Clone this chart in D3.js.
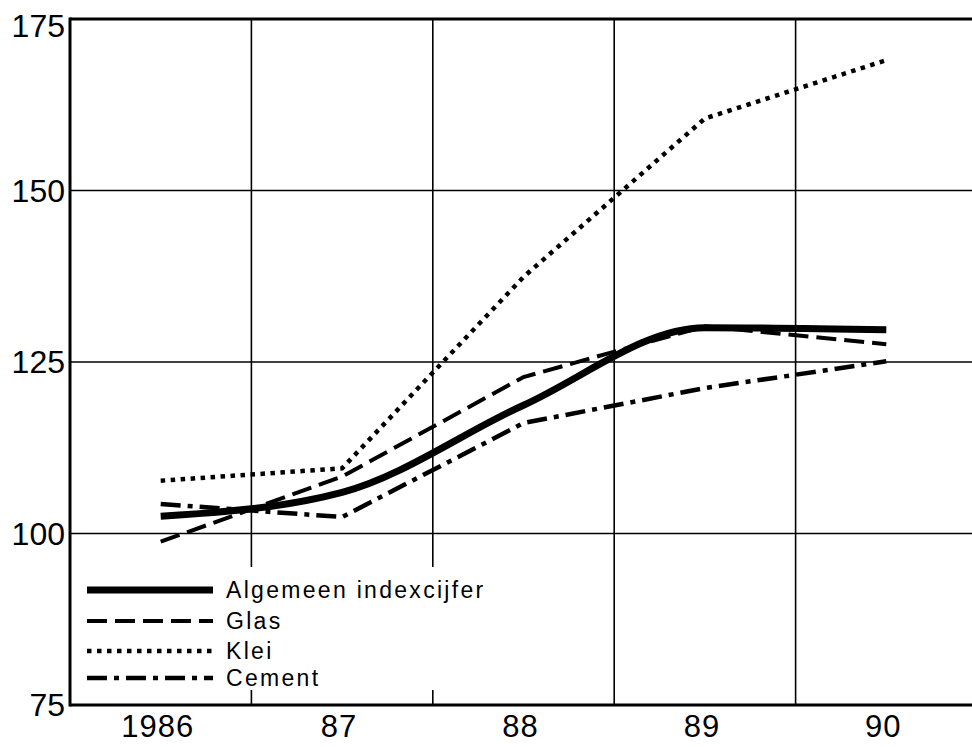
<!DOCTYPE html>
<html>
<head>
<meta charset="utf-8">
<script src="https://cdn.jsdelivr.net/npm/d3@7/dist/d3.min.js"></script>
<style>
  body { margin: 0; background: #fff; }
  text { font-family: "Liberation Sans", Arial, sans-serif; fill: #000; }
</style>
</head>
<body>
<div id="chart"></div>
<script>
// values (index, mid-year points)
const years    = [1986.5, 1987.5, 1988.5, 1989.5, 1990.5];
const algemeen = [102.5, 106.0, 118.7, 130.0, 129.7];
const glas     = [98.8, 108.3, 122.8, 130.2, 127.6];
const klei     = [107.7, 109.5, 137.4, 160.5, 169.0];
const cement   = [104.3, 102.4, 116.1, 121.2, 125.1];

const yearLabels  = ['1986', '87', '88', '89', '90'];
const yearGrid    = [1987, 1988, 1989, 1990, 1991];
const yTicks      = [75, 100, 125, 150, 175];
const seriesNames = ['Algemeen indexcijfer', 'Glas', 'Klei', 'Cement'];

var WIDTH  = 972,
    HEIGHT = 747;

var x = d3.scaleLinear().domain([1986, 1991]).range([70, 977]);
var y = d3.scaleLinear().domain([75, 175]).range([705, 19]);

var svg = d3.select('#chart').append('svg')
    .attr('width', WIDTH)
    .attr('height', HEIGHT);

// grid
var grid = svg.append('g').attr('class', 'grid');
grid.selectAll('line.h')
    .data(yTicks.slice(1, -1))
    .enter().append('line')
    .attr('class', 'h')
    .attr('x1', x(1986)).attr('x2', WIDTH)
    .attr('y1', d => y(d)).attr('y2', d => y(d))
    .attr('stroke', '#000').attr('stroke-width', 1.6);

grid.selectAll('line.v')
    .data(yearGrid)
    .enter().append('line')
    .attr('class', 'v')
    .attr('x1', d => x(d)).attr('x2', d => x(d))
    .attr('y1', y(175)).attr('y2', y(75))
    .attr('stroke', '#000').attr('stroke-width', 1.6);

// frame: top, left, bottom
svg.append('line')
    .attr('x1', x(1986)).attr('x2', WIDTH)
    .attr('y1', y(175)).attr('y2', y(175))
    .attr('stroke', '#000').attr('stroke-width', 3);
svg.append('line')
    .attr('x1', x(1986)).attr('x2', WIDTH)
    .attr('y1', y(75)).attr('y2', y(75))
    .attr('stroke', '#000').attr('stroke-width', 3);
svg.append('line')
    .attr('x1', x(1986)).attr('x2', x(1986))
    .attr('y1', y(175) - 1.5).attr('y2', y(75) + 1.5)
    .attr('stroke', '#000').attr('stroke-width', 3);

// y labels
var yAxis = d3.axisLeft(y).tickValues(yTicks).tickSize(0).tickPadding(5);
var yg = svg.append('g')
    .attr('transform', 'translate(' + x(1986) + ',0)')
    .call(yAxis);
yg.select('.domain').remove();
yg.selectAll('text')
    .attr('font-size', 32)
    .attr('font-family', '"Liberation Sans", Arial, sans-serif')
    .attr('fill', '#000')
    .attr('dy', (d) => d === 175 ? '0.55em' : '0.34em');

// x labels at year centres
var xg = svg.append('g').attr('class', 'xlabels');
xg.selectAll('text')
    .data(yearLabels)
    .enter().append('text')
    .attr('x', (d, i) => x(1986.5 + i) - 3)
    .attr('y', 737)
    .attr('text-anchor', 'middle')
    .attr('font-size', 31)
    .attr('letter-spacing', 1)
    .text(d => d);

// legend box masks the grid
var legend = svg.append('g').attr('class', 'legend');
legend.append('rect')
    .attr('x', x(1986) + 2).attr('y', 567)
    .attr('width', 425).attr('height', 123)
    .attr('fill', '#fff');

// series
var series = [
    { name: seriesNames[0], values: algemeen, width: 7,   dash: null,          curve: d3.curveMonotoneX },
    { name: seriesNames[1], values: glas,     width: 4,   dash: '20,8',        curve: d3.curveLinear },
    { name: seriesNames[2], values: klei,     width: 4.5, dash: '4.5,5.5',     curve: d3.curveLinear },
    { name: seriesNames[3], values: cement,   width: 4.5, dash: '20,7,5,7',    curve: d3.curveLinear }
];

series.slice().reverse().forEach(function(s){
    var line = d3.line()
        .x((d, i) => x(years[i]))
        .y(d => y(d))
        .curve(s.curve);
    svg.append('path')
        .datum(s.values)
        .attr('d', line)
        .attr('fill', 'none')
        .attr('stroke', '#000')
        .attr('stroke-width', s.width)
        .attr('stroke-dasharray', s.dash);
});

// legend entries
var rowY = [590, 621, 651, 678];
series.forEach(function(s, i){
    legend.append('line')
        .attr('x1', 87).attr('x2', 213)
        .attr('y1', rowY[i]).attr('y2', rowY[i])
        .attr('stroke', '#000')
        .attr('stroke-width', s.width)
        .attr('stroke-dasharray', s.dash);
    legend.append('text')
        .attr('x', 226)
        .attr('y', rowY[i] + 8)
        .attr('font-size', 23)
        .attr('letter-spacing', 2.3)
        .text(s.name);
});
</script>
</body>
</html>
